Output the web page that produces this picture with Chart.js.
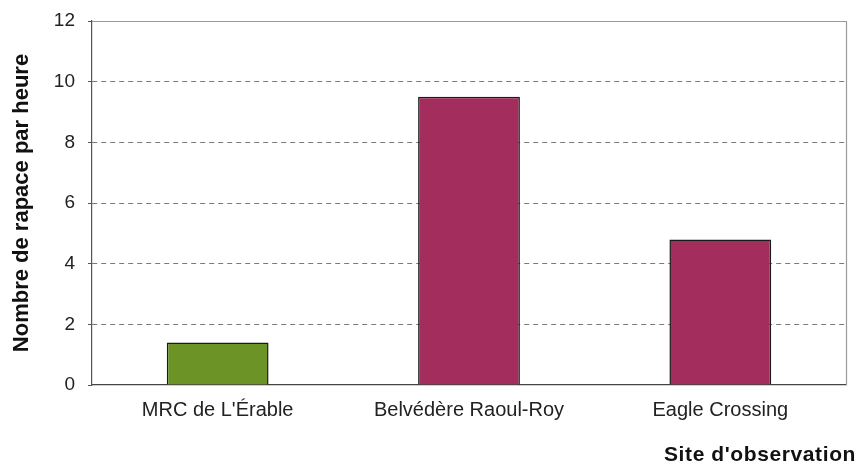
<!DOCTYPE html>
<html>
<head>
<meta charset="utf-8">
<script src="https://cdn.jsdelivr.net/npm/chart.js@4"></script>
<style>
html,body{margin:0;padding:0;background:#fff;}
#wrap{width:861px;height:470px;position:relative;}
</style>
</head>
<body>
<div id="wrap"><canvas id="c" width="861" height="470"></canvas></div>
<script>
const categories = ["MRC de L'Érable", "Belvédère Raoul-Roy", "Eagle Crossing"];
const values = [1.4, 9.5, 4.8];
const barColors = ["#6c9325", "#a32d5d"];
const yTicks = [0, 2, 4, 6, 8, 10, 12];
const yTitle = "Nombre de rapace par heure";
const xTitle = "Site d'observation";

const fill = values.map((v, i) => i === 0 ? barColors[0] : barColors[1]);

const framePlugin = {
  id: 'frame',
  afterDatasetsDraw(chart) {
    const {ctx, chartArea: a} = chart;
    ctx.save();
    ctx.strokeStyle = '#9a9a9a';
    ctx.lineWidth = 1.2;
    ctx.beginPath();
    ctx.moveTo(a.left, a.top + 0.5);
    ctx.lineTo(a.right + 0.5, a.top + 0.5);
    ctx.lineTo(a.right + 0.5, a.bottom);
    ctx.stroke();
    ctx.restore();
  },
  afterDraw(chart) {
    const {ctx} = chart;
    ctx.save();
    ctx.font = 'bold 21px "Liberation Sans", Arial';
    try { ctx.letterSpacing = '0.6px'; } catch (e) {}
    ctx.fillStyle = '#111';
    ctx.textAlign = 'right';
    ctx.textBaseline = 'middle';
    ctx.fillText(xTitle, 856, 455);
    ctx.restore();
  }
};

new Chart(document.getElementById('c'), {
  type: 'bar',
  data: {
    labels: categories,
    datasets: [{
      data: values,
      backgroundColor: fill,
      borderColor: '#1a1a1a',
      borderWidth: 1.5,
      categoryPercentage: 1.0,
      barPercentage: 0.405
    }]
  },
  options: {
    responsive: false,
    animation: false,
    events: [],
    layout: {padding: {left: 0, right: 15, top: 21, bottom: 0}},
    plugins: {legend: {display: false}, tooltip: {enabled: false}},
    scales: {
      x: {
        grid: {display: false, drawTicks: false},
        border: {display: true, color: '#444', width: 1.2},
        ticks: {color: '#222', font: {family: 'Liberation Sans, Arial', size: 20}, padding: 13},
        afterFit(s) { s.height = 470 - 385; s.paddingLeft = 0; s.paddingRight = 0; }
      },
      y: {
        min: 0, max: 12,
        afterBuildTicks(s) { s.ticks = yTicks.map(v => ({value: v})); },
        grid: {
          color: ctx => (ctx.tick && (ctx.tick.value === 0 || ctx.tick.value === 12)) ? 'rgba(0,0,0,0)' : '#7a7a7a',
          lineWidth: 1,
          tickLength: 4,
          tickColor: '#555'
        },
        border: {display: true, color: '#555', width: 1.2, dash: [5, 4]},
        ticks: {color: '#222', font: {family: 'Liberation Sans, Arial', size: 19}, padding: 13},
        title: {display: true, text: yTitle, color: '#111',
                font: {family: 'Liberation Sans, Arial', size: 22, weight: 'bold'}, padding: {top: 9, bottom: 0}},
        afterFit(s) { s.width = 92; s.paddingTop = 0; s.paddingBottom = 0; }
      }
    }
  },
  plugins: [framePlugin]
});
</script>
</body>
</html>
